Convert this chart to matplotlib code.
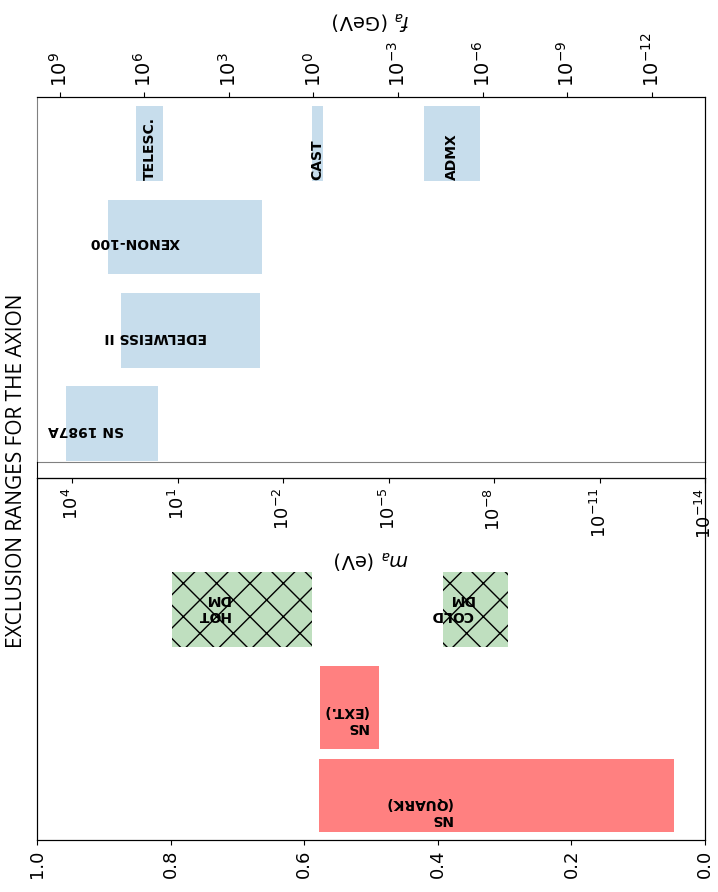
import matplotlib.pyplot as plt
from matplotlib.ticker import NullLocator

# upper panel: experimental exclusions, m_a in eV
up_names = ["TELESC.", "CAST", "ADMX", "XENON-100", "EDELWEISS II", "SN 1987A"]
up_hi = [153, 1.5e-3, 9.8e-7, 955, 408, 1.5e4]
up_lo = [26, 7.3e-4, 2.5e-8, 0.040, 0.0455, 36]

# lower panel: cosmology / astrophysics, m_a in eV
low_names = ["HOT\nDM", "COLD\nDM", "NS\n(EXT.)", "NS\n(QUARK)"]
low_hi = [14.5, 2.8e-7, 8.9e-4, 9.5e-4]
low_lo = [1.5e-3, 4.0e-9, 1.9e-5, 7.6e-14]

ma_ticks = [1e4, 1e1, 1e-2, 1e-5, 1e-8, 1e-11, 1e-14]
fa_ticks = [1e9, 1e6, 1e3, 1e0, 1e-3, 1e-6, 1e-9, 1e-12]
lin_ticks = [0.0, 0.2, 0.4, 0.6, 0.8, 1.0]

# layout only
up_rows = [0, 0, 0, 1, 2, 3]
up_text_rot = [90, 90, 90, 180, 180, 180]
up_text_pos = [None, None, None, (163, 1.057), (41.3, 2.067), (4.0e3, 3.066)]
low_rows = [1, 1, 2.05, 3]
low_h = [0.8, 0.8, 0.89, 0.79]
low_text_pos = [(1.0, 0.973), (1.57e-7, 0.973), (1.74e-4, 2.177), (1.46e-6, 3.167)]

blue = "#c7ddec"
red = "#ff8080"
green = "#bfdfbf"

fig = plt.figure(figsize=(7.18, 8.92), dpi=100)
L, W = 37 / 718, 668 / 718
ax_top = fig.add_axes([L, 1 - 462 / 892, W, 365 / 892])
ax_bot = fig.add_axes([L, 1 - 840 / 892, W, 362 / 892])
ax_mid = fig.add_axes([L, 1 - 478 / 892, W, 16 / 892])
ax_mid.set_zorder(5)

ma_lim = (1e5, 1e-14)

# ---- upper panel
ax_top.set_xscale("log")
ax_top.set_xlim(*ma_lim)
ax_top.set_ylim(3.41, -0.5)
ax_top.barh(up_rows, [h - l for h, l in zip(up_hi, up_lo)], left=up_lo,
            height=0.8, color=blue, edgecolor="none")
for i, name in enumerate(up_names):
    if up_text_rot[i] == 90:
        xc = (up_hi[i] * up_lo[i]) ** 0.5
        ax_top.text(xc, up_rows[i] + 0.39, name, rotation=90, ha="center",
                    va="bottom", fontsize=10, fontweight="bold")
    else:
        x, y = up_text_pos[i]
        ax_top.text(x, y, name, rotation=180, ha="center", va="center",
                    fontsize=10, fontweight="bold")
ax_top.set_xticks([])
ax_top.set_yticks([])
ax_top.xaxis.set_minor_locator(NullLocator())
ax_top.spines["left"].set_color("0.5")
ax_top.spines["bottom"].set_color("0.5")

ax_f = ax_top.twiny()
ax_f.set_xscale("log")
ax_f.set_xlim(6.3e9, 1.32e-14)
ax_f.set_xticks(fa_ticks)
ax_f.xaxis.set_minor_locator(NullLocator())
ax_f.tick_params(axis="x", labelrotation=90, labelsize=14)
ax_f.set_xlabel("$f_a$ (GeV)", rotation=180, fontsize=14, labelpad=5)
for s in ["left", "bottom"]:
    ax_f.spines[s].set_visible(False)

# ---- m_a axis strip
ax_mid.set_xscale("log")
ax_mid.set_xlim(*ma_lim)
ax_mid.set_xticks(ma_ticks)
ax_mid.xaxis.set_minor_locator(NullLocator())
ax_mid.set_yticks([])
ax_mid.spines["top"].set_visible(False)
ax_mid.tick_params(axis="x", labelrotation=90, labelsize=13)
ax_mid.set_xlabel("$m_a$ (eV)", rotation=180, fontsize=14, labelpad=7)
ax_mid.patch.set_alpha(0)

# ---- lower panel
ax_bot.set_xlim(1.0, 0.0)
ax_bot.set_xticks(lin_ticks)
ax_bot.tick_params(axis="x", labelrotation=90, labelsize=13)
ax_bot.set_yticks([])
ax_bot.set_ylim(3.478, -0.414)

ax_bl = ax_bot.twiny()
ax_bl.set_xscale("log")
ax_bl.set_xlim(*ma_lim)
ax_bl.set_xticks([])
ax_bl.xaxis.set_minor_locator(NullLocator())
widths = [h - l for h, l in zip(low_hi, low_lo)]
ax_bl.barh(low_rows[:2], widths[:2], left=low_lo[:2], height=low_h[:2],
           color=green, edgecolor="k", linewidth=0, hatch="x")
ax_bl.barh(low_rows[2:], widths[2:], left=low_lo[2:], height=low_h[2:],
           color=red, edgecolor="none")
for name, (x, y) in zip(low_names, low_text_pos):
    ax_bl.text(x, y, name, rotation=180, ha="center", va="center",
               multialignment="left", fontsize=10, fontweight="bold")

fig.text(17 / 718, 1 - 471 / 892, "EXCLUSION RANGES FOR THE AXION",
         rotation=90, ha="center", va="center", fontsize=15,
         family=["Open Sans", "DejaVu Sans"])

fig.savefig("out.png", dpi=100)
